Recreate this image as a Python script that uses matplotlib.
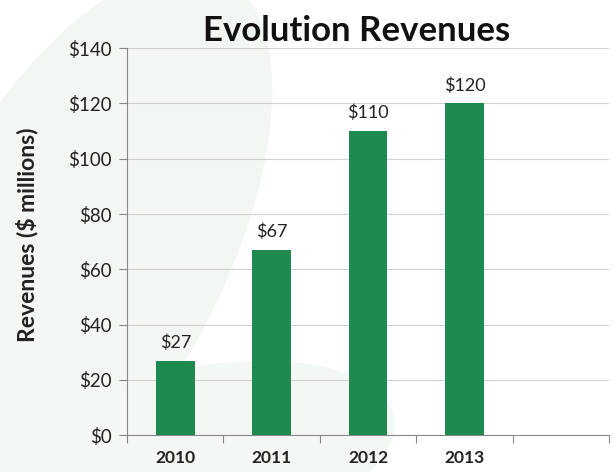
import matplotlib
matplotlib.use("Agg")
import matplotlib.pyplot as plt
from matplotlib.patches import Ellipse
import numpy as np

years = ["2010", "2011", "2012", "2013", ""]
revenues = [27, 67, 110, 120]
value_labels = ["$27", "$67", "$110", "$120"]

plt.rcParams['font.family'] = ['Lato', 'DejaVu Sans']

fig = plt.figure(figsize=(6.14, 4.72), dpi=100)

# faint leaf-like shapes in the slide background
fig.patches.append(Ellipse((0.12, 0.45), 0.5, 1.3, angle=-20, transform=fig.transFigure,
                           facecolor="#f3f7f4", edgecolor="none", zorder=-5))
fig.patches.append(Ellipse((0.35, 0.05), 0.6, 0.35, angle=15, transform=fig.transFigure,
                           facecolor="#f4f8f5", edgecolor="none", zorder=-5))

ax = fig.add_axes([0.207, 0.078, 0.785, 0.82])
ax.set_zorder(1)
ax.patch.set_alpha(0)

x = np.arange(len(revenues))
bars = ax.bar(x, revenues, width=0.4, color="#1f8a50", zorder=3)

for b, lab in zip(bars, value_labels):
    ax.annotate(lab, (b.get_x() + b.get_width() / 2, b.get_height()),
                xytext=(0, 7), textcoords="offset points",
                ha="center", va="bottom", fontsize=13, color="#222222")

ax.set_xlim(-0.5, len(years) - 0.5)
ax.set_ylim(0, 140)
ax.set_yticks(range(0, 141, 20))
ax.set_yticklabels(["$%d" % v for v in range(0, 141, 20)], fontsize=13.5, color="#222222")

# category labels centred, tick marks between categories
ax.set_xticks(np.arange(len(years) + 1) - 0.5)
ax.set_xticklabels([])
ax.set_xticks(np.arange(len(years)), minor=True)
ax.set_xticklabels(years, minor=True, fontsize=12.5, fontweight="bold", color="#222222")
ax.tick_params(axis="x", which="minor", length=0, pad=11)
ax.tick_params(axis="x", which="major", length=6, color="#888888")
ax.tick_params(axis="y", length=6, color="#888888", pad=5)

ax.grid(axis="y", color="#d0d0d0", linewidth=0.8, zorder=0)
for s in ["top", "right"]:
    ax.spines[s].set_visible(False)
ax.spines["left"].set_color("#888888")
ax.spines["bottom"].set_color("#888888")

fig.text(0.044, 0.502, "Revenues ($ millions)", rotation=90, ha="center", va="center",
         fontsize=16.5, fontweight="bold", color="#222222")
fig.text(0.581, 0.935, "Evolution Revenues", ha="center", va="center",
         fontsize=25, fontweight="bold", color="#111111")

fig.savefig("out.png", dpi=100)
